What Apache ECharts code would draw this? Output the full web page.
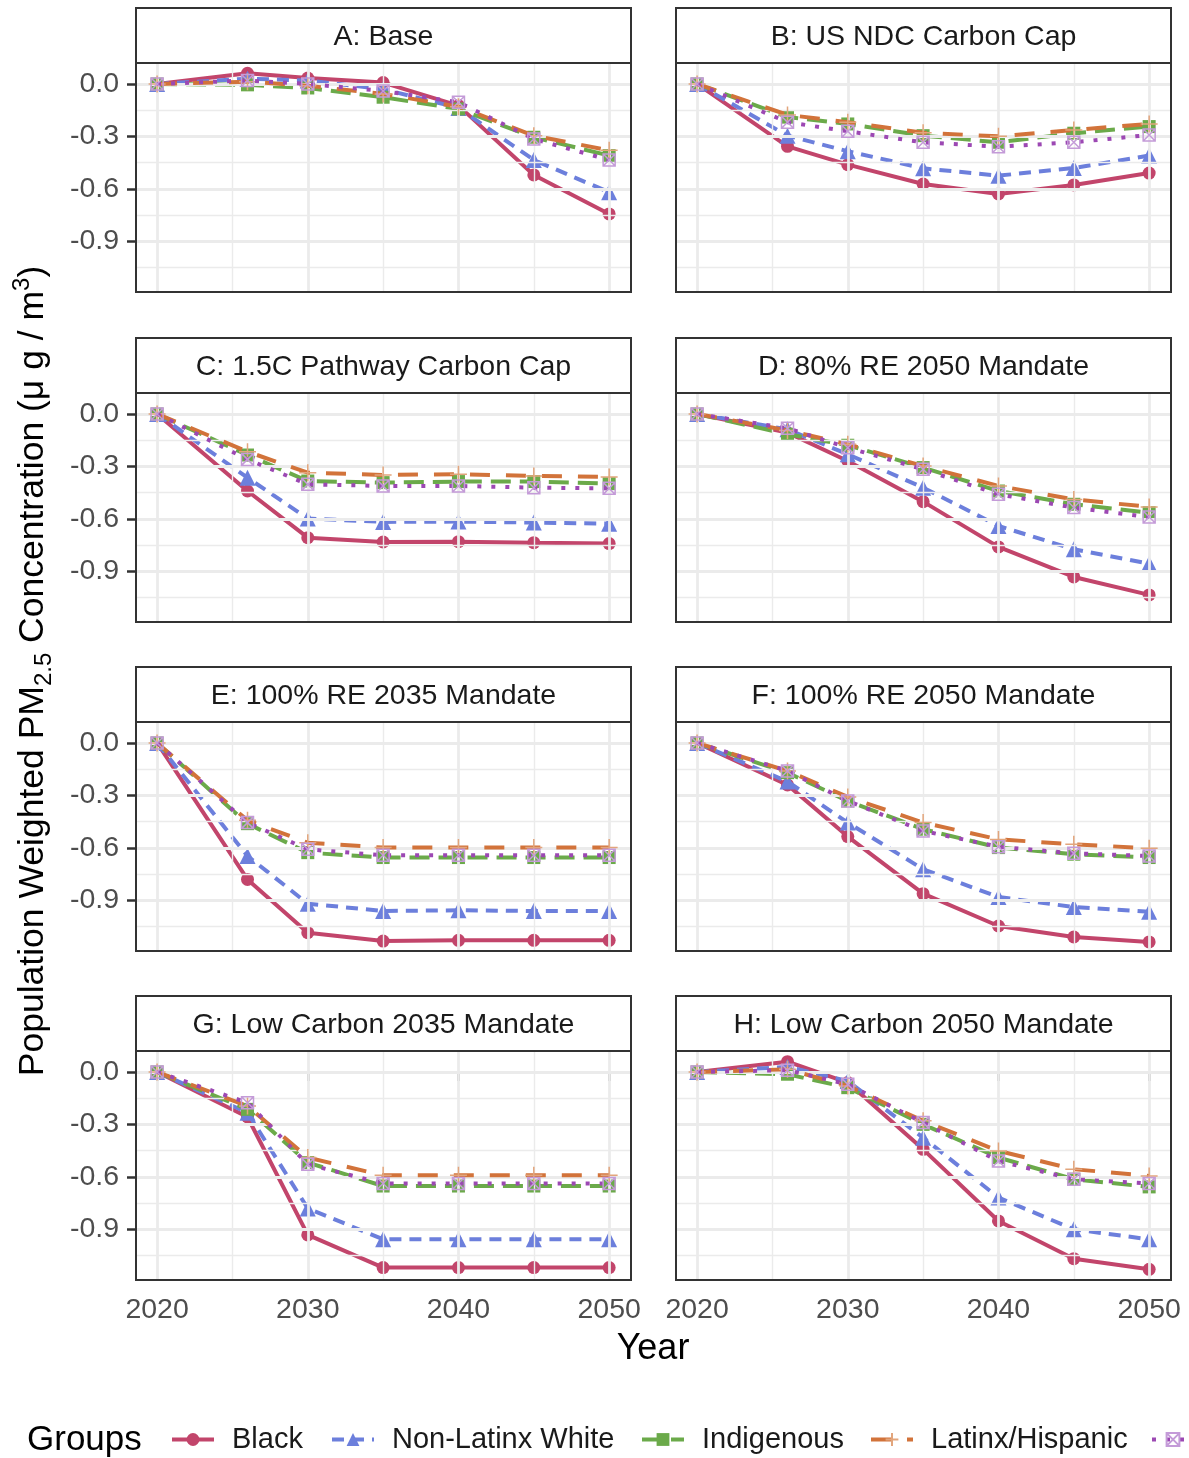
<!DOCTYPE html>
<html>
<head>
<meta charset="utf-8">
<script src="https://cdn.jsdelivr.net/npm/echarts@6/dist/echarts.min.js"></script>
<style>
  html, body { margin: 0; padding: 0; background: #ffffff; }
  #chart { width: 1189px; height: 1458px; }
</style>
</head>
<body>
<div id="chart"></div>
<script>
// Years simulated in each scenario
const years = [2020, 2026, 2030, 2035, 2040, 2045, 2050];

// Facet titles, in panel order (left-to-right, top-to-bottom)
const scenarios = [
  'A: Base',
  'B: US NDC Carbon Cap',
  'C: 1.5C Pathway Carbon Cap',
  'D: 80% RE 2050 Mandate',
  'E: 100% RE 2035 Mandate',
  'F: 100% RE 2050 Mandate',
  'G: Low Carbon 2035 Mandate',
  'H: Low Carbon 2050 Mandate'
];

const groups = ['Black', 'Non-Latinx White', 'Indigenous', 'Latinx/Hispanic', 'Asian'];

// Change in population-weighted PM2.5 (µg/m³) per scenario, one row per panel
const blackValues = [
  [0, 0.061, 0.034, 0.008, -0.124, -0.521, -0.744],
  [0, -0.357, -0.462, -0.573, -0.630, -0.578, -0.510],
  [0, -0.441, -0.708, -0.733, -0.731, -0.737, -0.742],
  [0, -0.107, -0.269, -0.502, -0.761, -0.933, -1.036],
  [0, -0.781, -1.086, -1.134, -1.130, -1.130, -1.130],
  [0, -0.240, -0.536, -0.863, -1.048, -1.111, -1.139],
  [0, -0.258, -0.933, -1.120, -1.120, -1.120, -1.120],
  [0, 0.059, -0.061, -0.443, -0.853, -1.069, -1.130]
];
const whiteValues = [
  [0, 0.030, 0.020, -0.030, -0.137, -0.435, -0.620],
  [0, -0.296, -0.385, -0.483, -0.525, -0.481, -0.410],
  [0, -0.365, -0.599, -0.618, -0.616, -0.622, -0.628],
  [0, -0.088, -0.231, -0.422, -0.641, -0.775, -0.857],
  [0, -0.647, -0.920, -0.962, -0.958, -0.962, -0.962],
  [0, -0.221, -0.456, -0.723, -0.882, -0.939, -0.966],
  [0, -0.233, -0.781, -0.958, -0.958, -0.958, -0.958],
  [0, 0.029, -0.052, -0.376, -0.719, -0.901, -0.958]
];
const indigenousValues = [
  [0, -0.005, -0.023, -0.076, -0.143, -0.305, -0.410],
  [0, -0.190, -0.229, -0.296, -0.334, -0.282, -0.244],
  [0, -0.235, -0.384, -0.393, -0.387, -0.387, -0.399],
  [0, -0.116, -0.179, -0.307, -0.441, -0.517, -0.565],
  [0, -0.462, -0.628, -0.656, -0.656, -0.656, -0.656],
  [0, -0.170, -0.332, -0.494, -0.599, -0.637, -0.656],
  [0, -0.214, -0.519, -0.653, -0.653, -0.653, -0.653],
  [0, -0.013, -0.090, -0.300, -0.490, -0.614, -0.658]
];
const latinxValues = [
  [0, 0.013, -0.010, -0.057, -0.130, -0.296, -0.380],
  [0, -0.177, -0.219, -0.279, -0.300, -0.263, -0.229],
  [0, -0.216, -0.336, -0.349, -0.345, -0.355, -0.361],
  [0, -0.094, -0.174, -0.298, -0.412, -0.489, -0.532],
  [0, -0.443, -0.571, -0.599, -0.599, -0.599, -0.599],
  [0, -0.160, -0.309, -0.456, -0.552, -0.580, -0.603],
  [0, -0.195, -0.490, -0.592, -0.592, -0.592, -0.592],
  [0, 0.015, -0.080, -0.280, -0.452, -0.557, -0.595]
];
const asianValues = [
  [0, 0.020, 0.000, -0.040, -0.105, -0.315, -0.435],
  [0, -0.219, -0.271, -0.334, -0.359, -0.334, -0.292],
  [0, -0.260, -0.403, -0.412, -0.412, -0.422, -0.426],
  [0, -0.082, -0.193, -0.317, -0.460, -0.536, -0.590],
  [0, -0.456, -0.609, -0.643, -0.643, -0.643, -0.643],
  [0, -0.160, -0.332, -0.504, -0.594, -0.632, -0.647],
  [0, -0.176, -0.529, -0.639, -0.639, -0.639, -0.639],
  [0, 0.010, -0.071, -0.290, -0.510, -0.614, -0.639]
];

// Tick labels and grid breaks
const xTicks = [2020, 2030, 2040, 2050];
const xMinor = [2025, 2035, 2045];
const yTicks = [0, -0.3, -0.6, -0.9];
const yMinor = [-0.15, -0.45, -0.75, -1.05];

const valuesByGroup = [blackValues, whiteValues, indigenousValues, latinxValues, asianValues];

const FONT = '"Liberation Sans", Arial, Helvetica, sans-serif';

// Panel geometry (pixels)
const colLeft = [136, 676];
const rowTop = [63, 393, 722, 1051];
const panelW = 495;
const panelH = 229;
const stripH = 55;

const X_MIN = 2018.6, X_MAX = 2051.45;
const Y_MIN = -1.191, Y_MAX = 0.12;

// Per-group drawing styles
const styles = [
  { color: '#C2456B', dash: 'solid', symbol: 'circle', size: 13,
    item: { color: '#C2456B', borderWidth: 0 } },
  { color: '#6C7FDC', dash: [12, 8], symbol: 'triangle', size: 16,
    item: { color: '#6C7FDC', borderWidth: 0 } },
  { color: '#6BAA4A', dash: [20, 9], symbol: 'rect', size: 13,
    item: { color: '#6BAA4A', borderWidth: 0 } },
  { color: '#D2733A', dash: [20, 16], symbol: 'path://M5,0 L5,10 M0,5 L10,5', size: 17,
    item: { color: 'rgba(0,0,0,0)', borderColor: '#E2A57C', borderWidth: 1.5 } },
  { color: '#9C48B3', dash: [4, 10], symbol: 'path://M0,0 L10,0 L10,10 L0,10 Z M0,0 L10,10 M10,0 L0,10', size: 12,
    item: { color: 'rgba(0,0,0,0)', borderColor: '#C49BD8', borderWidth: 1.5 } }
];

const grids = [], xAxes = [], yAxes = [], series = [], graphics = [];

scenarios.forEach((title, i) => {
  const col = i % 2, row = Math.floor(i / 2);
  const left = colLeft[col], top = rowTop[row];

  grids.push({ left: left, top: top, width: panelW, height: panelH, show: false });

  xAxes.push({
    gridIndex: i, type: 'value', min: X_MIN, max: X_MAX,
    axisLine: { show: false }, splitLine: { show: false },
    axisTick: { show: row === 3, customValues: xTicks, length: 9,
      lineStyle: { color: '#333333', width: 2.5 } },
    axisLabel: { show: row === 3, customValues: xTicks, margin: 16,
      fontSize: 28.5, color: '#4D4D4D', fontFamily: FONT,
      formatter: v => String(v) }
  });

  yAxes.push({
    gridIndex: i, type: 'value', min: Y_MIN, max: Y_MAX,
    axisLine: { show: false }, splitLine: { show: false },
    axisTick: { show: col === 0, customValues: yTicks, length: 9,
      lineStyle: { color: '#333333', width: 2.5 } },
    axisLabel: { show: col === 0, customValues: yTicks, margin: 17,
      fontSize: 28.5, color: '#4D4D4D', fontFamily: FONT,
      formatter: v => v.toFixed(1) }
  });

  // Background grid: major and minor breaks
  const major = { color: '#EBEBEB', width: 2.8, type: 'solid' };
  const minor = { color: '#EBEBEB', width: 1.4, type: 'solid' };
  const lines = [];
  xMinor.forEach(v => lines.push({ xAxis: v, lineStyle: minor }));
  yMinor.forEach(v => lines.push({ yAxis: v, lineStyle: minor }));
  xTicks.forEach(v => lines.push({ xAxis: v, lineStyle: major }));
  yTicks.forEach(v => lines.push({ yAxis: v, lineStyle: major }));
  series.push({
    type: 'line', xAxisIndex: i, yAxisIndex: i, z: 1, silent: true,
    data: [[2020, 0]], showSymbol: false, lineStyle: { width: 0 },
    animation: false,
    markLine: { silent: true, symbol: ['none', 'none'], animation: false,
      label: { show: false }, data: lines }
  });

  // Panel border
  graphics.push({
    type: 'rect', z: 100, silent: true,
    shape: { x: left, y: top, width: panelW, height: panelH },
    style: { fill: 'none', stroke: '#333333', lineWidth: 2 }
  });
  // Facet strip
  graphics.push({
    type: 'rect', z: 100, silent: true,
    shape: { x: left, y: top - stripH, width: panelW, height: stripH },
    style: { fill: '#FFFFFF', stroke: '#333333', lineWidth: 2 }
  });
  graphics.push({
    type: 'text', z: 101, silent: true,
    x: left + panelW / 2, y: top - stripH / 2 + 1.5,
    style: { text: title, fill: '#1A1A1A', font: '28.5px ' + FONT,
      align: 'center', verticalAlign: 'middle' }
  });
});

// Group lines: all groups, every panel
groups.forEach((g, gi) => {
  const s = styles[gi];
  valuesByGroup[gi].forEach((vals, i) => {
    series.push({
      type: 'line', name: g, xAxisIndex: i, yAxisIndex: i,
      z: 2 + gi, animation: false,
      data: years.map((y, k) => [y, vals[k]]),
      symbol: s.symbol, symbolSize: s.size, showAllSymbol: true,
      lineStyle: { color: s.color, width: 4, type: s.dash },
      itemStyle: s.item,
      emphasis: { disabled: true }
    });
  });
});

// Legend: title plus one entry per group
const legendLeft = [165, 325, 635, 864, 1145];
const legends = groups.map((g, gi) => ({
  data: [g], left: legendLeft[gi], top: 1420, orient: 'horizontal',
  itemWidth: 42, itemHeight: 16, selectedMode: false,
  lineStyle: { width: 4 },
  textStyle: { fontSize: 29, color: '#1A1A1A', fontFamily: FONT, padding: [0, 0, 0, 13] }
}));

graphics.push({
  type: 'text', silent: true, x: 27, y: 1440,
  style: { text: 'Groups', fill: '#000000', font: '35px ' + FONT, verticalAlign: 'middle' }
});

// Axis titles
graphics.push({
  type: 'text', silent: true, x: 653, y: 1349,
  style: { text: 'Year', fill: '#000000', font: '36px ' + FONT,
    align: 'center', verticalAlign: 'middle' }
});
graphics.push({
  type: 'text', silent: true, x: 33, y: 671, rotation: Math.PI / 2,
  style: {
    text: '{m|Population Weighted PM}{sub|2.5}{m| Concentration (μ g / m}{sup|3}{m|)}',
    align: 'center', verticalAlign: 'middle',
    rich: {
      m: { fontSize: 35.5, fontFamily: FONT, fill: '#000000', lineHeight: 46, verticalAlign: 'middle' },
      sub: { fontSize: 24, fontFamily: FONT, fill: '#000000', lineHeight: 46, verticalAlign: 'bottom' },
      sup: { fontSize: 24, fontFamily: FONT, fill: '#000000', lineHeight: 46, verticalAlign: 'top' }
    }
  }
});

const chart = echarts.init(document.getElementById('chart'), null, { renderer: 'canvas' });
chart.setOption({
  backgroundColor: '#FFFFFF',
  animation: false,
  grid: grids,
  xAxis: xAxes,
  yAxis: yAxes,
  legend: legends,
  series: series,
  graphic: graphics
});
</script>
</body>
</html>
